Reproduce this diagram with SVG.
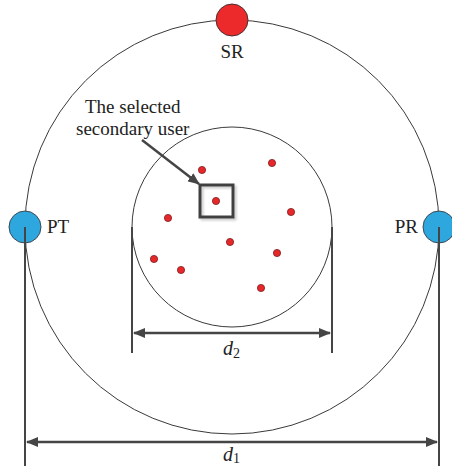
<svg xmlns="http://www.w3.org/2000/svg" width="452" height="468" viewBox="0 0 452 468">
<style>
.ring{fill:none;stroke:#3a3a3a;stroke-width:1}
.dim{stroke:#454545;stroke-width:2.5;fill:none}
.dimv{stroke:#454545;stroke-width:2;fill:none}
.lbl{font-family:"Liberation Serif",serif;font-size:19px;fill:#222}
.it{font-family:"Liberation Serif",serif;font-size:20px;font-style:italic;fill:#222}
.sub{font-family:"Liberation Serif",serif;font-size:14px;fill:#222}
.su{fill:#e8272a;stroke:#7a2020;stroke-width:0.8}
.blue{fill:#2ea7df;stroke:#3d4a55;stroke-width:1}
</style>
<defs>
<marker id="ah" viewBox="0 0 12 10" refX="11" refY="5" markerWidth="12" markerHeight="10" markerUnits="userSpaceOnUse" orient="auto-start-reverse">
<path d="M0,0 L12,5 L0,10 z" fill="#454545"/>
</marker>
<filter id="sh" x="-20%" y="-20%" width="150%" height="150%">
<feDropShadow dx="2" dy="2" stdDeviation="1" flood-color="#000" flood-opacity="0.2"/>
</filter>
</defs>
<g id="outer-region"><circle class="ring" cx="232" cy="227" r="207"/></g>
<g id="inner-region"><circle class="ring" cx="232" cy="227" r="100"/></g>
<g id="connectors">
<line class="dimv" x1="25" y1="227" x2="25" y2="466"/>
<line class="dimv" x1="439" y1="227" x2="439" y2="466"/>
<line class="dim" x1="27" y1="442" x2="437" y2="442" marker-start="url(#ah)" marker-end="url(#ah)"/>
<line class="dimv" x1="132" y1="227" x2="132" y2="353"/>
<line class="dimv" x1="332" y1="227" x2="332" y2="353"/>
<line class="dim" x1="134" y1="333" x2="330" y2="333" marker-start="url(#ah)" marker-end="url(#ah)"/>
<line class="dim" x1="142" y1="140" x2="199" y2="184" marker-end="url(#ah)"/>
</g>
<g id="SR"><circle cx="232" cy="20" r="16" fill="#ec2a2b" stroke="#4a3030" stroke-width="1"/><text class="lbl" x="232" y="58" text-anchor="middle">SR</text></g>
<g id="PT"><circle class="blue" cx="25" cy="227" r="16"/><line class="dimv" x1="25" y1="227" x2="25" y2="243"/><text class="lbl" x="47" y="233">PT</text></g>
<g id="PR"><circle class="blue" cx="439" cy="227" r="16"/><line class="dimv" x1="439" y1="227" x2="439" y2="243"/><text class="lbl" x="418" y="233" text-anchor="end">PR</text></g>
<g id="label-selected"><text class="lbl" x="85" y="113">The selected</text><text class="lbl" x="76" y="135">secondary user</text></g>
<g id="selected-box"><rect x="200" y="185" width="33" height="32" fill="none" stroke="#404040" stroke-width="3" filter="url(#sh)"/></g>
<g id="users">
<circle class="su" cx="202" cy="170" r="3.6"/>
<circle class="su" cx="272" cy="163" r="3.6"/>
<circle class="su" cx="216" cy="201" r="3.6"/>
<circle class="su" cx="168" cy="218" r="3.6"/>
<circle class="su" cx="291" cy="212" r="3.6"/>
<circle class="su" cx="230" cy="242" r="3.6"/>
<circle class="su" cx="277" cy="253" r="3.6"/>
<circle class="su" cx="154" cy="259" r="3.6"/>
<circle class="su" cx="181" cy="270" r="3.6"/>
<circle class="su" cx="261" cy="288" r="3.6"/>
</g>
<g id="label-d2"><text x="223" y="355"><tspan class="it">d</tspan><tspan class="sub" dy="3">2</tspan></text></g>
<g id="label-d1"><text x="223" y="461"><tspan class="it">d</tspan><tspan class="sub" dy="2">1</tspan></text></g>
</svg>
